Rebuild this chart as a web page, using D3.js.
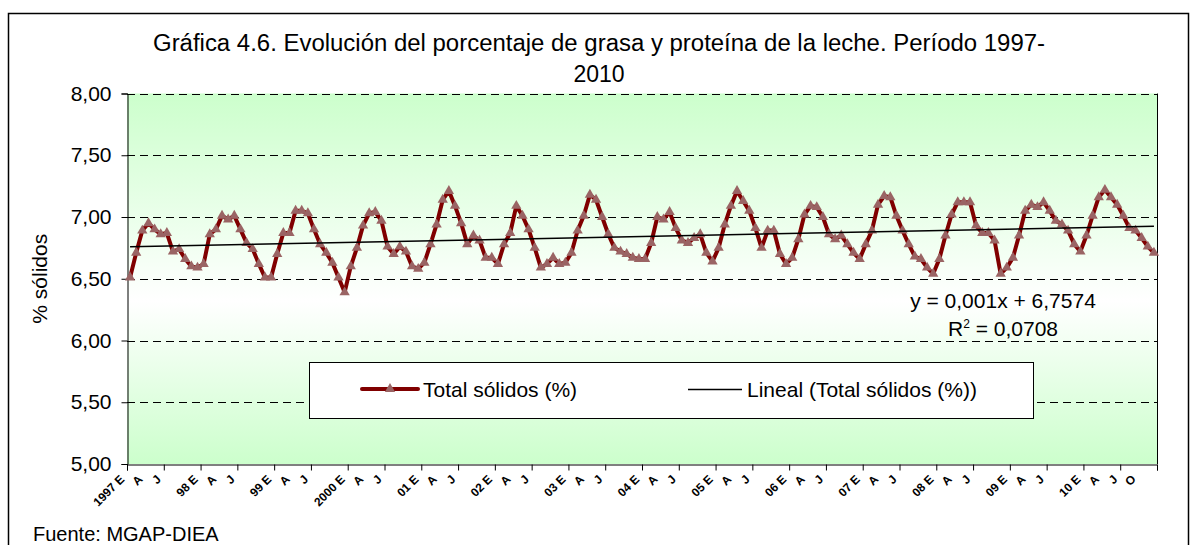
<!DOCTYPE html>
<html>
<head>
<meta charset="utf-8">
<script src="https://cdnjs.cloudflare.com/ajax/libs/d3/7.8.5/d3.min.js"></script>
<style>
  body { margin: 0; background: #ffffff; }
  svg text { font-family: "Liberation Sans", Arial, sans-serif; fill: #000000; }
</style>
</head>
<body>
<div id="chart_container"></div>
<script>
// Total sólidos (%) by month, Jan 1997 .. Dec 2010

let years = ["1997", "98", "99", "2000", "01", "02", "03", "04", "05", "06", "07", "08", "09", "10"];
let month_letters = ["E", "F", "M", "A", "M", "J", "J", "A", "S", "O", "N", "D"];

let total_solidos = [
  6.51, 6.71, 6.89, 6.95, 6.90, 6.86, 6.87, 6.72, 6.74, 6.66, 6.60, 6.59,  // 1997
  6.62, 6.86, 6.90, 7.01, 6.98, 7.01, 6.90, 6.79, 6.74, 6.62, 6.51, 6.51,  // 1998
  6.70, 6.87, 6.87, 7.05, 7.05, 7.03, 6.90, 6.78, 6.71, 6.63, 6.51, 6.39,  // 1999
  6.60, 6.75, 6.93, 7.03, 7.04, 6.97, 6.76, 6.70, 6.76, 6.72, 6.60, 6.58,  // 2000
  6.63, 6.78, 6.94, 7.14, 7.21, 7.09, 6.95, 6.78, 6.85, 6.81, 6.67, 6.67,  // 2001
  6.62, 6.78, 6.87, 7.09, 7.01, 6.90, 6.75, 6.59, 6.62, 6.67, 6.62, 6.63,  // 2002
  6.71, 6.89, 7.01, 7.18, 7.14, 7.00, 6.86, 6.75, 6.72, 6.70, 6.67, 6.66,  // 2003
  6.66, 6.79, 7.00, 6.98, 7.04, 6.91, 6.81, 6.79, 6.83, 6.86, 6.71, 6.64,  // 2004
  6.75, 6.94, 7.09, 7.21, 7.13, 7.05, 6.91, 6.75, 6.89, 6.89, 6.70, 6.62,  // 2005
  6.67, 6.82, 7.02, 7.09, 7.08, 7.00, 6.86, 6.82, 6.85, 6.78, 6.71, 6.66,  // 2006
  6.78, 6.89, 7.10, 7.17, 7.16, 7.01, 6.89, 6.78, 6.68, 6.66, 6.59, 6.54,  // 2007
  6.66, 6.85, 7.02, 7.12, 7.12, 7.12, 6.93, 6.87, 6.87, 6.81, 6.54, 6.59,  // 2008
  6.67, 6.85, 7.05, 7.10, 7.08, 7.12, 7.05, 6.97, 6.94, 6.89, 6.78, 6.72,  // 2009
  6.85, 7.01, 7.16, 7.22, 7.16, 7.10, 7.01, 6.91, 6.89, 6.83, 6.76, 6.71   // 2010
];

let y_ticks = [5.0, 5.5, 6.0, 6.5, 7.0, 7.5, 8.0];

// linear trend as printed on the chart: y = 0,001x + 6,7574
let trend_slope = 0.001;
let trend_intercept = 6.7574;

let svg_width = 1196;
let svg_height = 545;

let plot = { "left": 127, "top": 93.5, "right": 1157, "bottom": 464 };

let fmt_es = function hst_fmt_es(v)
{
  return (d3.format(".2f")(v).replace(".", ","));
}

// build the category list: one entry per month
let categories = [];
years.forEach(function (yr, yi) {
  month_letters.forEach(function (m, mi) {
    categories.push({ "key": yi * 12 + mi, "year": yr, "month": mi, "letter": m });
  });
});

let x_scale = d3.scaleBand()
                .domain(categories.map(d => d.key))
                .range([plot.left, plot.right])
                .paddingInner(0)
                .paddingOuter(0);

let y_scale = d3.scaleLinear()
                .domain([5, 8])
                .range([plot.bottom, plot.top]);

let x_mid = function (k) { return (x_scale(k) + x_scale.bandwidth() / 2); };

let svg = d3.select("#chart_container")
  .append("svg")
    .attr("width", svg_width)
    .attr("height", svg_height)
    .attr("xmlns", "http://www.w3.org/2000/svg");

// plot background gradient
let defs = svg.append("defs");
let grad = defs.append("linearGradient")
  .attr("id", "plot_bg")
  .attr("x1", 0).attr("y1", 0).attr("x2", 0).attr("y2", 1);
grad.append("stop").attr("offset", "0%").attr("stop-color", "#ccffcc");
grad.append("stop").attr("offset", "56%").attr("stop-color", "#ffffff");
grad.append("stop").attr("offset", "100%").attr("stop-color", "#ccffcc");

// outer frame
svg.append("rect")
  .attr("x", 8.5).attr("y", 13.5)
  .attr("width", 1180).attr("height", 560)
  .attr("fill", "#ffffff")
  .attr("stroke", "#000000")
  .attr("stroke-width", 1.5);

svg.append("rect")
  .attr("x", plot.left).attr("y", plot.top)
  .attr("width", plot.right - plot.left)
  .attr("height", plot.bottom - plot.top)
  .attr("fill", "url(#plot_bg)");

// title
let title = svg.append("text")
  .attr("x", 599)
  .attr("text-anchor", "middle")
  .style("font-size", "23px");
title.append("tspan").attr("x", 599).attr("y", 51)
  .attr("textLength", 892)
  .attr("lengthAdjust", "spacingAndGlyphs")
  .text("Gráfica 4.6. Evolución del porcentaje de grasa y proteína de la leche. Período 1997-");
title.append("tspan").attr("x", 599).attr("y", 82).text("2010");

// dashed grid
svg.append("g")
  .selectAll("line")
  .data(y_ticks.filter(v => v > 5))
  .join("line")
    .attr("x1", plot.left).attr("x2", plot.right)
    .attr("y1", d => Math.round(y_scale(d)) + 0.5)
    .attr("y2", d => Math.round(y_scale(d)) + 0.5)
    .attr("stroke", "#000000")
    .attr("stroke-width", 1)
    .attr("stroke-dasharray", "8,5");

// right edge of plot area
svg.append("line")
  .attr("x1", plot.right + 0.5).attr("x2", plot.right + 0.5)
  .attr("y1", plot.top).attr("y2", plot.bottom)
  .attr("stroke", "#000000");

// y axis
let y_axis = d3.axisLeft(y_scale)
  .tickValues(y_ticks)
  .tickSize(6)
  .tickPadding(10)
  .tickFormat(fmt_es);

svg.append("g")
  .attr("transform", "translate(" + (plot.left + 0.5) + ",0)")
  .call(y_axis)
  .call(g => g.selectAll("text").style("font-size", "21px").style("font-family", "Liberation Sans, Arial, sans-serif"))
  .call(g => g.selectAll("line, path").attr("stroke", "#000000"));

svg.append("text")
  .attr("transform", "translate(47," + ((plot.top + plot.bottom) / 2) + ") rotate(-90)")
  .attr("text-anchor", "middle")
  .style("font-size", "21px")
  .text("% sólidos");

// x axis: ticks every six months
let tick_keys = categories.filter(d => d.month % 6 === 0).map(d => d.key);

let x_axis = d3.axisBottom(x_scale)
  .tickValues(tick_keys)
  .tickSize(6)
  .tickFormat("");

let x_g = svg.append("g")
  .attr("transform", "translate(0," + (plot.bottom + 0.5) + ")")
  .call(x_axis)
  .call(g => g.selectAll("line, path").attr("stroke", "#000000"));

// move tick marks onto the category boundaries
x_g.selectAll(".tick")
  .attr("transform", d => "translate(" + (x_scale(d) + 0.5) + ",0)");
x_g.append("line")
  .attr("x1", plot.right + 0.5).attr("x2", plot.right + 0.5)
  .attr("y1", 0).attr("y2", 6)
  .attr("stroke", "#000000");

// quarter labels (E, A, J), plus O on the last year
let label_cats = categories.filter(function (d) {
  if (d.month === 0 || d.month === 3 || d.month === 6) { return true; }
  return (d.month === 9 && d.year === "10");
});

svg.append("g")
  .selectAll("text")
  .data(label_cats)
  .join("text")
    .attr("transform", d => "translate(" + (x_mid(d.key) - 5) + "," + (plot.bottom + 16) + ") rotate(-45)")
    .attr("text-anchor", "end")
    .style("font-size", "12px")
    .style("font-weight", "bold")
    .text(d => d.month === 0 ? (d.year + " " + d.letter) : d.letter);

// series line
let series_line = d3.line()
  .x((d, i) => x_mid(i))
  .y(d => y_scale(d));

svg.append("path")
  .datum(total_solidos)
  .attr("d", series_line)
  .attr("fill", "none")
  .attr("stroke", "#800000")
  .attr("stroke-width", 4)
  .attr("stroke-linejoin", "round");

svg.append("g")
  .selectAll("path")
  .data(total_solidos)
  .join("path")
    .attr("transform", (d, i) => "translate(" + x_mid(i) + "," + y_scale(d) + ")")
    .attr("d", d3.symbol().type(d3.symbolTriangle).size(46))
    .attr("fill", "#9a6464");

// trend line
let n = total_solidos.length;
svg.append("line")
  .attr("x1", x_mid(0)).attr("y1", y_scale(trend_intercept + trend_slope * 1))
  .attr("x2", x_mid(n - 1)).attr("y2", y_scale(trend_intercept + trend_slope * n))
  .attr("stroke", "#000000")
  .attr("stroke-width", 1.5);

// equation
svg.append("text")
  .attr("x", 1003).attr("y", 308)
  .attr("text-anchor", "middle")
  .style("font-size", "21px")
  .text("y = " + d3.format(".3f")(trend_slope).replace(".", ",") + "x + " + d3.format(".4f")(trend_intercept).replace(".", ","));

let r2 = svg.append("text")
  .attr("x", 1003).attr("y", 336)
  .attr("text-anchor", "middle")
  .style("font-size", "21px");
r2.append("tspan").text("R");
r2.append("tspan").attr("dy", -8).style("font-size", "12px").text("2");
r2.append("tspan").attr("dy", 8).text(" = 0,0708");

// legend
let legend = svg.append("g");
legend.append("rect")
  .attr("x", 309.5).attr("y", 362.5)
  .attr("width", 724).attr("height", 56)
  .attr("fill", "#ffffff")
  .attr("stroke", "#000000")
  .attr("stroke-width", 1);

legend.append("line")
  .attr("x1", 362).attr("x2", 418).attr("y1", 389).attr("y2", 389)
  .attr("stroke", "#800000").attr("stroke-width", 4).attr("stroke-linecap", "round");
legend.append("path")
  .attr("transform", "translate(390,389)")
  .attr("d", d3.symbol().type(d3.symbolTriangle).size(46))
  .attr("fill", "#9a6464");
legend.append("text")
  .attr("x", 423).attr("y", 397)
  .style("font-size", "21px")
  .text("Total sólidos (%)");

legend.append("line")
  .attr("x1", 688).attr("x2", 742).attr("y1", 389.5).attr("y2", 389.5)
  .attr("stroke", "#000000").attr("stroke-width", 1.5);
legend.append("text")
  .attr("x", 747).attr("y", 397)
  .style("font-size", "21px")
  .text("Lineal (Total sólidos (%))");

// source
svg.append("text")
  .attr("x", 33).attr("y", 541)
  .style("font-size", "20px")
  .text("Fuente: MGAP-DIEA");
</script>
</body>
</html>
